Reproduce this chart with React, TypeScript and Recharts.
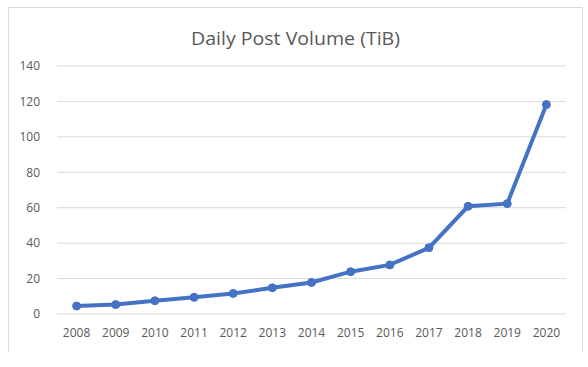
import React from 'react';
import { LineChart, Line, XAxis, YAxis, CartesianGrid } from 'recharts';

const years = ['2008', '2009', '2010', '2011', '2012', '2013', '2014', '2015', '2016', '2017', '2018', '2019', '2020'];
const volumeTiB = [4.5, 5.3, 7.5, 9.4, 11.6, 14.8, 17.8, 23.9, 27.7, 37.4, 60.8, 62.3, 118.2];
const yTicks = [0, 20, 40, 60, 80, 100, 120, 140];

const chartData = years.map((year, i) => ({ year, volume: volumeTiB[i] }));

const FONT = '"Open Sans", "DejaVu Sans", sans-serif';
const TEXT_COLOR = '#595959';

export default function App() {
	return (
		<div style={{ position: 'absolute', left: 0, top: 0, width: 588, height: 367, background: '#fff', fontFamily: FONT }}>
			{/* chart area frame, bottom edge is cut off in the original */}
			<div
				style={{
					position: 'absolute',
					left: 8,
					top: 7,
					width: 575,
					height: 345,
					borderTop: '1px solid #d9d9d9',
					borderLeft: '1px solid #d9d9d9',
					borderRight: '1px solid #d9d9d9',
					boxSizing: 'border-box',
				}}
			/>
			<svg style={{ position: 'absolute', left: 0, top: 0 }} width={588} height={60}>
				<text
					x={295.5}
					y={45}
					textAnchor="middle"
					fontFamily={FONT}
					fontSize={18}
					fill={TEXT_COLOR}
					textLength={209}
					lengthAdjust="spacingAndGlyphs"
				>
					Daily Post Volume (TiB)
				</text>
			</svg>
			<div style={{ position: 'absolute', left: 0, top: 0 }}>
				<LineChart width={588} height={367} data={chartData} margin={{ top: 66, right: 22, bottom: 23, left: 0 }}>
					<CartesianGrid vertical={false} stroke="#d9d9d9" strokeWidth={1} />
					<XAxis
						dataKey="year"
						height={30}
						axisLine={false}
						tickLine={false}
						tickMargin={8}
						interval={0}
						padding={{ left: 19.6, right: 19.6 }}
						tick={{ fontSize: 12, fill: TEXT_COLOR, fontFamily: FONT }}
					/>
					<YAxis
						width={57}
						domain={[0, 140]}
						ticks={yTicks}
						axisLine={false}
						tickLine={false}
						tickMargin={11}
						tick={{ fontSize: 12, fill: TEXT_COLOR, fontFamily: FONT }}
					/>
					<Line
						type="linear"
						dataKey="volume"
						stroke="#4472C4"
						strokeWidth={4}
						dot={{ r: 4, fill: '#4472C4', stroke: '#4472C4', strokeWidth: 1 }}
						isAnimationActive={false}
					/>
				</LineChart>
			</div>
		</div>
	);
}
